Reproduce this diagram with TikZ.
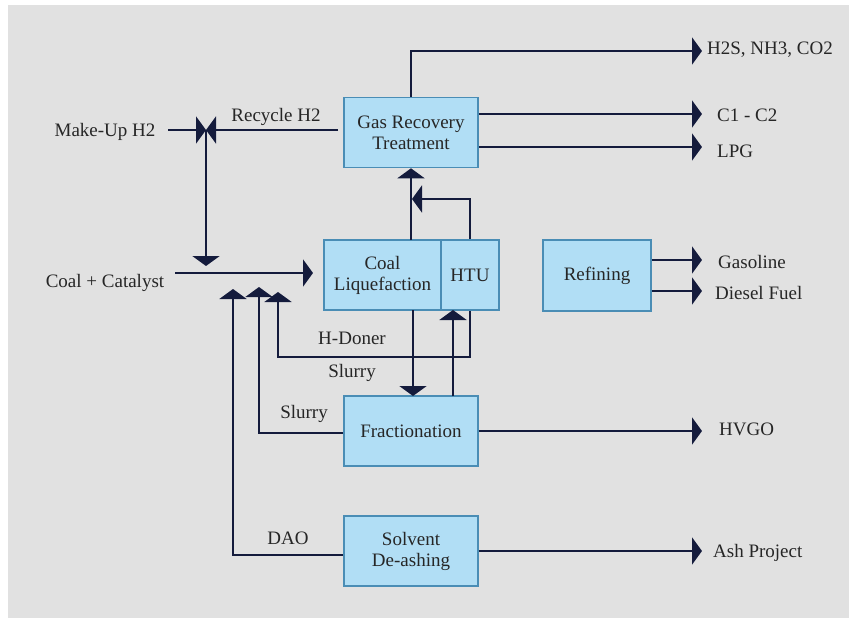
\documentclass[tikz,border=0pt]{standalone}
\usepackage{fontspec}
\setmainfont{Liberation Serif}
\usetikzlibrary{arrows.meta}
\definecolor{bg}{HTML}{E1E1E1}
\definecolor{boxfill}{HTML}{B1DEF5}
\definecolor{boxline}{HTML}{4A8DB5}
\definecolor{flowc}{HTML}{141B3C}
\definecolor{txt}{HTML}{262626}
\tikzset{
  unit/.style={draw=boxline, fill=boxfill, line width=1.6pt, inner sep=0pt, align=center, text=txt,
    font=\fontsize{19}{21}\selectfont},
  lbl/.style={text=txt, inner sep=0pt, font=\fontsize{19}{21}\selectfont},
  flow/.style={draw=flowc, line width=2.2pt, -{Triangle[width=27pt,length=10pt]}}
}
\begin{document}
\begin{tikzpicture}[x=1pt,y=-1pt]
\useasboundingbox (0,0) rectangle (849,618);
\fill[white] (0,0) rectangle (849,618);
\fill[bg] (8,5) rectangle (849,618);
% units
\node[unit, minimum width=134pt, minimum height=70pt] (gas) at (411,132.5) {Gas Recovery\\Treatment};
\node[unit, minimum width=117pt, minimum height=70pt] (coal) at (382.5,275) {Coal\\Liquefaction};
\node[unit, minimum width=58pt, minimum height=70pt] (htu) at (470,275) {HTU};
\node[unit, minimum width=108pt, minimum height=71pt] (ref) at (597,275.5) {Refining};
\node[unit, minimum width=134pt, minimum height=70pt] (frac) at (411,431) {Fractionation};
\node[unit, minimum width=134pt, minimum height=70pt] (solv) at (411,551) {Solvent\\De-ashing};
% labels
\node[lbl] (makeup) at (105,132) {Make-Up H2};
\node[lbl] (coalcat) at (105,283) {Coal + Catalyst};
\node[lbl] at (276,117) {Recycle H2};
\node[lbl] at (352,338) {H-Doner};
\node[lbl] at (352,373) {Slurry};
\node[lbl] at (304,414) {Slurry};
\node[lbl] at (288,538) {DAO};
\node[lbl, anchor=west] (o1) at (707,50) {H2S, NH3, CO2};
\node[lbl, anchor=west] (o2) at (717,115) {C1 - C2};
\node[lbl, anchor=west] (o3) at (717,151) {LPG};
\node[lbl, anchor=west] (o4) at (718,262) {Gasoline};
\node[lbl, anchor=west] (o5) at (715,293) {Diesel Fuel};
\node[lbl, anchor=west] (o6) at (719,429) {HVGO};
\node[lbl, anchor=west] (o7) at (713,553) {Ash Project};
% coordinates
\coordinate (mix) at (206,130);
\coordinate (mkst) at (168,130);
\coordinate (rcst) at (338,130);
\coordinate (mixdn) at (206,266);
\coordinate (ccst) at (175,273);
\coordinate (cctip) at (313,273);
\coordinate (t1) at (702,51);
\coordinate (t2) at (702,114);
\coordinate (t3) at (702,147);
\coordinate (t4) at (702,260);
\coordinate (t5) at (702,291);
\coordinate (t6) at (702,431);
\coordinate (t7) at (702,551);
\coordinate (daotip) at (233,289);
\coordinate (slutip) at (259,287);
\coordinate (hdtip) at (278,292);
\coordinate (hdcorner) at (470,357);
% H2 feeds
\draw[flow] (mkst) -- (mix);
\draw[flow] (rcst) -- (mix);
\draw[flow] (mix) -- (mixdn);
\draw[flow] (ccst) -- (cctip);
% top connections
\draw[flow] (411,240) -- (gas.south);
\draw[flow] (htu.north) |- (412,199);
\draw[flow] (gas.north) |- (t1);
\draw[flow] (gas.east |- t2) -- (t2);
\draw[flow] (gas.east |- t3) -- (t3);
\draw[flow] (ref.east |- t4) -- (t4);
\draw[flow] (ref.east |- t5) -- (t5);
\draw[flow] (frac.east |- t6) -- (t6);
\draw[flow] (solv.east |- t7) -- (t7);
% lower loops
\draw[flow] (htu.south) -- (hdcorner) -| (hdtip);
\draw[flow] (413,310) -- (413,396);
\draw[flow] (453,396) -- (453,310);
\draw[flow] (frac.west |- 0,433) -| (slutip);
\draw[flow] (solv.west |- 0,555) -| (daotip);
\end{tikzpicture}
\end{document}
